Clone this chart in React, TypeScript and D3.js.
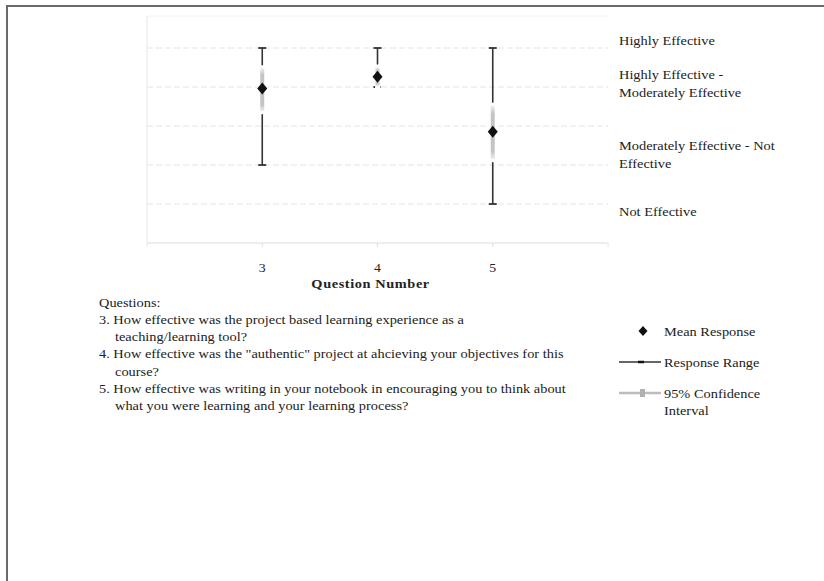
import React from "react";
import * as d3 from "d3";

// Survey results per question
const questions = [3, 4, 5];
const meanResponse = [3.96, 4.26, 2.85];
const rangeLow = [2, 4, 1];
const rangeHigh = [5, 5, 5];
const ciLow = [3.38, 4.02, 2.15];
const ciHigh = [4.48, 4.5, 3.52];

// Response scale labels shown at the right of the plot
const levelLabels = [
  ["Highly Effective"],
  ["Highly Effective -", "Moderately Effective"],
  ["Moderately Effective - Not", "Effective"],
  ["Not Effective"],
];
const levelLabelAt = [5.18, 4.08, 2.27, 0.8];

const gridLevels = [1, 2, 3, 4, 5];

const questionLines = [
  { text: "Questions:", indent: false },
  { text: "3. How effective was the project based learning experience as a", indent: false },
  { text: "teaching/learning tool?", indent: true },
  { text: '4. How effective was the "authentic" project at ahcieving your objectives for this', indent: false },
  { text: "course?", indent: true },
  { text: "5. How effective was writing in your notebook in encouraging you to think about", indent: false },
  { text: "what you were learning and your learning process?", indent: true },
];

const legendItems = ["Mean Response", "Response Range", "95% Confidence|Interval"];

const W = 824;
const H = 581;
const FONT = "'Liberation Serif', 'Times New Roman', serif";
const INK = "#222";
// the page's lettering is set slightly wide
const SX = 1.15;

type TxtProps = {
  x: number;
  y: number;
  size?: number;
  anchor?: "start" | "middle" | "end";
  weight?: string;
  spacing?: number;
  children: React.ReactNode;
};

function Txt({ x, y, size = 12.5, anchor = "start", weight, spacing, children }: TxtProps) {
  return (
    <text
      transform={`translate(${x},${y}) scale(${SX},1)`}
      textAnchor={anchor}
      fontSize={size}
      fontWeight={weight}
      letterSpacing={spacing}
      fill={INK}
    >
      {children}
    </text>
  );
}

// diamond marker centred on the origin
function diamondPath(w: number, h: number) {
  const p = d3.path();
  p.moveTo(0, -h / 2);
  p.lineTo(w / 2, 0);
  p.lineTo(0, h / 2);
  p.lineTo(-w / 2, 0);
  p.closePath();
  return p.toString();
}

export default function App() {
  const x = d3.scaleLinear().domain([2, 6]).range([147, 608]);
  const y = d3.scaleLinear().domain([0, 5]).range([243, 48]);
  const plotTop = 16;

  const marker = diamondPath(10, 12);
  const cap = 4;

  return (
    <svg
      width={W}
      height={H}
      style={{ position: "absolute", left: 0, top: 0, background: "#fff" }}
      fontFamily={FONT}
    >
      <defs>
        <linearGradient id="ciFade" x1="0" x2="0" y1="0" y2="1">
          <stop offset="0" stopColor="#c8c8c8" stopOpacity={0.3} />
          <stop offset="0.15" stopColor="#c4c4c4" />
          <stop offset="0.85" stopColor="#c4c4c4" />
          <stop offset="1" stopColor="#c8c8c8" stopOpacity={0.3} />
        </linearGradient>
      </defs>

      {/* outer frame */}
      <path d={`M7,${H} V6 H${W}`} fill="none" stroke="#6a6a6a" strokeWidth={2} />

      {/* plot area */}
      <line x1={x(2)} x2={x(2)} y1={plotTop} y2={y(0)} stroke="#e6e6e6" />
      <line x1={x(2)} x2={x(6)} y1={plotTop} y2={plotTop} stroke="#f2f2f2" />
      {gridLevels.map((g) => (
        <line
          key={g}
          x1={x(2)}
          x2={x(6)}
          y1={y(g)}
          y2={y(g)}
          stroke="#e4e4e4"
          strokeDasharray="6,3"
        />
      ))}
      <line x1={x(2)} x2={x(6)} y1={y(0)} y2={y(0)} stroke="#dcdcdc" />
      {questions.map((q) => (
        <line key={q} x1={x(q)} x2={x(q)} y1={y(0)} y2={y(0) + 4} stroke="#dcdcdc" />
      ))}
      {[2, 6].map((q) => (
        <line key={q} x1={x(q)} x2={x(q)} y1={y(0)} y2={y(0) + 4} stroke="#e6e6e6" />
      ))}

      {/* tick labels and axis title */}
      {questions.map((q) => (
        <Txt key={q} x={x(q)} y={y(0) + 29} anchor="middle" size={12}>
          {q}
        </Txt>
      ))}
      <Txt x={x(3.94)} y={y(0) + 45} anchor="middle" size={12.5} weight="bold" spacing={0.5}>
        Question Number
      </Txt>

      {/* response ranges, confidence intervals and means */}
      {questions.map((q, i) => {
        const cx = x(q);
        const top = y(ciHigh[i]);
        const bottom = y(ciLow[i]);
        return (
          <g key={q}>
            <line x1={cx} x2={cx} y1={y(rangeHigh[i])} y2={y(rangeLow[i])} stroke="#333" strokeWidth={1.6} />
            <line x1={cx - cap} x2={cx + cap} y1={y(rangeHigh[i])} y2={y(rangeHigh[i])} stroke="#333" strokeWidth={1.8} />
            <line
              x1={cx - cap}
              x2={cx + cap}
              y1={y(rangeLow[i])}
              y2={y(rangeLow[i])}
              stroke="#333"
              strokeWidth={1.8}
              strokeDasharray={i === 1 ? "2,3" : undefined}
            />
            <rect x={cx - 2.5} y={top - 3} width={5} height={bottom - top + 6} fill="#fff" />
            <rect x={cx - 2} y={top} width={4} height={bottom - top} fill="url(#ciFade)" />
            <path d={marker} transform={`translate(${cx},${y(meanResponse[i])})`} fill="#111" />
          </g>
        );
      })}

      {/* scale labels */}
      {levelLabels.map((lines, i) => {
        const cy = y(levelLabelAt[i]) - ((lines.length - 1) * 18) / 2;
        return lines.map((l, j) => (
          <Txt key={`${i}-${j}`} x={619} y={cy + j * 18 + 4.5}>
            {l}
          </Txt>
        ));
      })}

      {/* question texts */}
      {questionLines.map((l, i) => (
        <Txt key={i} x={l.indent ? 115 : 99} y={302 + i * 17.3 + 4.5}>
          {l.text}
        </Txt>
      ))}

      {/* legend */}
      <g>
        <path d={diamondPath(9, 10)} transform="translate(643,331)" fill="#111" />
        <Txt x={664} y={335.5}>{legendItems[0]}</Txt>

        <line x1={619} x2={661} y1={362} y2={362} stroke="#333" strokeWidth={1.5} />
        <line x1={638} x2={644} y1={362} y2={362} stroke="#111" strokeWidth={2.5} />
        <Txt x={664} y={366.5}>{legendItems[1]}</Txt>

        <line x1={619} x2={661} y1={393} y2={393} stroke="#bcbcbc" strokeWidth={2.5} />
        <rect x={640} y={389} width={5} height={8} fill="#b0b0b0" />
        {legendItems[2].split("|").map((t, j) => (
          <Txt key={j} x={664} y={397.5 + j * 17}>{t}</Txt>
        ))}
      </g>
    </svg>
  );
}
